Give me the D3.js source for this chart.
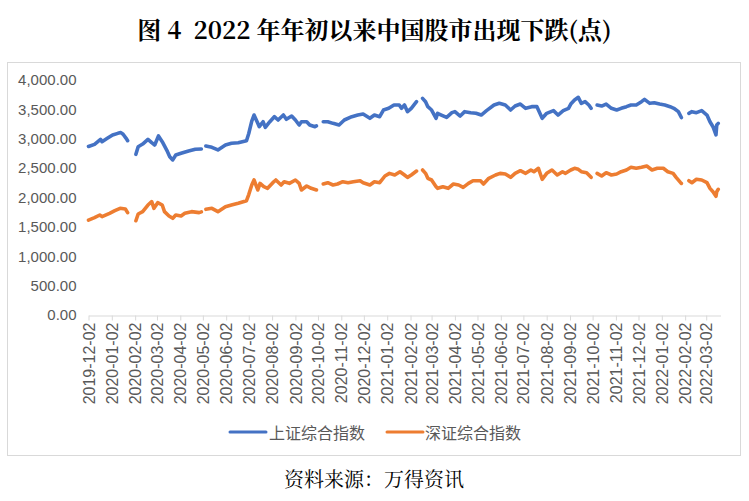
<!DOCTYPE html>
<html><head><meta charset="utf-8">
<script src="https://cdn.jsdelivr.net/npm/d3@7/dist/d3.min.js"></script>
<style>
html,body{margin:0;padding:0;background:#fff;}
svg{display:block;}
</style></head>
<body>
<svg id="c" width="749" height="501"></svg>
<script>
const titleText = "图 4  2022 年年初以来中国股市出现下跌(点)";
const sourceText = "资料来源：万得资讯";
const seriesNames = ["上证综合指数", "深证综合指数"];
const yTicks = [0, 500, 1000, 1500, 2000, 2500, 3000, 3500, 4000];
const xTickLabels = ["2019-12-02","2020-01-02","2020-02-02","2020-03-02","2020-04-02","2020-05-02","2020-06-02",
 "2020-07-02","2020-08-02","2020-09-02","2020-10-02","2020-11-02","2020-12-02","2021-01-02","2021-02-02",
 "2021-03-02","2021-04-02","2021-05-02","2021-06-02","2021-07-02","2021-08-02","2021-09-02","2021-10-02",
 "2021-11-02","2021-12-02","2022-01-02","2022-02-02","2022-03-02"];
const xDomain = ["2019-12-02", "2022-03-21"];

const shDates = ["2019-12-02","2019-12-10","2019-12-18","2019-12-20","2019-12-27","2020-01-03","2020-01-10","2020-01-14","2020-01-17","2020-01-21","2020-01-23","2020-01-31",
"2020-02-03","2020-02-06","2020-02-12","2020-02-19","2020-02-24","2020-02-28","2020-03-04","2020-03-09","2020-03-16","2020-03-19","2020-03-23","2020-03-27",
"2020-04-03","2020-04-13","2020-04-22","2020-04-30","2020-05-01","2020-05-06","2020-05-14","2020-05-22","2020-06-01","2020-06-09","2020-06-18","2020-06-29",
"2020-07-02","2020-07-06","2020-07-09","2020-07-14","2020-07-16","2020-07-21","2020-07-24","2020-07-30","2020-08-05","2020-08-10","2020-08-17","2020-08-21",
"2020-08-28","2020-09-02","2020-09-07","2020-09-10","2020-09-17","2020-09-21","2020-09-28","2020-09-30","2020-10-01","2020-10-09","2020-10-15","2020-10-22",
"2020-10-30","2020-11-06","2020-11-16","2020-11-24","2020-12-01","2020-12-10","2020-12-16","2020-12-23","2020-12-28","2021-01-04","2021-01-11","2021-01-18",
"2021-01-21","2021-01-25","2021-01-29","2021-02-03","2021-02-10","2021-02-11","2021-02-18","2021-02-22","2021-02-25","2021-03-02","2021-03-08","2021-03-10",
"2021-03-15","2021-03-22","2021-03-29","2021-04-02","2021-04-09","2021-04-15","2021-04-23","2021-04-30","2021-05-07","2021-05-14","2021-05-24","2021-05-31",
"2021-06-08","2021-06-15","2021-06-21","2021-06-28","2021-07-05","2021-07-13","2021-07-20","2021-07-27","2021-08-02","2021-08-11","2021-08-17","2021-08-24",
"2021-08-31","2021-09-03","2021-09-08","2021-09-13","2021-09-17","2021-09-22","2021-09-27","2021-09-30","2021-10-01","2021-10-08","2021-10-14","2021-10-20",
"2021-10-27","2021-11-03","2021-11-09","2021-11-16","2021-11-22","2021-11-29","2021-12-06","2021-12-10","2021-12-17","2021-12-23","2021-12-30","2022-01-06",
"2022-01-13","2022-01-18","2022-01-24","2022-01-28","2022-01-31","2022-02-07","2022-02-11","2022-02-17","2022-02-24","2022-03-03","2022-03-07","2022-03-11",
"2022-03-15","2022-03-16","2022-03-18"];
const shValues = [2868,2905,2990,2950,3007,3064,3092,3105,3076,3007,2967,null,
2735,2865,2910,2990,2933,2894,3047,2950,2780,2695,2640,2723,
2752,2791,2820,2825,null,2877,2854,2809,2894,2922,2933,2967,
3090,3300,3404,3262,3205,3290,3194,3290,3375,3319,3404,3331,
3387,3319,3234,3290,3290,3234,3205,3218,null,3290,3290,3262,
3234,3319,3375,3404,3421,3348,3404,3375,3489,3518,3574,3574,
3518,3574,3461,3518,3631,null,3688,3631,3546,3489,3348,3433,
3404,3365,3444,3461,3387,3461,3444,3433,3404,3478,3574,3603,
3574,3489,3557,3591,3518,3546,3546,3348,3433,3478,3404,3478,
3518,3590,3660,3705,3603,3631,3574,3518,null,3574,3557,3591,
3518,3489,3518,3546,3574,3574,3631,3671,3603,3614,3591,3574,
3546,3518,3461,3361,null,3433,3461,3444,3478,3404,3290,3205,
3065,3234,3262];

const szDates = ["2019-12-02","2019-12-10","2019-12-17","2019-12-20","2019-12-30","2020-01-06","2020-01-13","2020-01-20","2020-01-23","2020-01-31",
"2020-02-03","2020-02-06","2020-02-12","2020-02-19","2020-02-24","2020-02-27","2020-03-03","2020-03-09","2020-03-12","2020-03-18","2020-03-23","2020-03-27",
"2020-04-03","2020-04-08","2020-04-17","2020-04-27","2020-04-30","2020-05-01","2020-05-06","2020-05-14","2020-05-22","2020-06-01","2020-06-09","2020-06-18",
"2020-06-29","2020-07-02","2020-07-06","2020-07-09","2020-07-14","2020-07-17","2020-07-22","2020-07-27","2020-08-03","2020-08-07","2020-08-14","2020-08-18",
"2020-08-25","2020-09-02","2020-09-07","2020-09-10","2020-09-17","2020-09-23","2020-09-30","2020-10-01","2020-10-09","2020-10-15","2020-10-22","2020-10-28",
"2020-11-04","2020-11-11","2020-11-18","2020-11-27","2020-12-01","2020-12-10","2020-12-16","2020-12-23","2020-12-30","2021-01-05","2021-01-12","2021-01-19",
"2021-01-25","2021-01-29","2021-02-03","2021-02-10","2021-02-11","2021-02-18","2021-02-22","2021-02-25","2021-03-02","2021-03-08","2021-03-10","2021-03-17",
"2021-03-24","2021-03-31","2021-04-07","2021-04-13","2021-04-20","2021-04-26","2021-05-06","2021-05-10","2021-05-17","2021-05-26","2021-06-01","2021-06-08",
"2021-06-15","2021-06-21","2021-06-28","2021-07-05","2021-07-12","2021-07-16","2021-07-22","2021-07-27","2021-08-02","2021-08-09","2021-08-16","2021-08-23",
"2021-08-27","2021-09-03","2021-09-08","2021-09-13","2021-09-17","2021-09-24","2021-09-30","2021-10-01","2021-10-08","2021-10-14","2021-10-20","2021-10-27",
"2021-11-03","2021-11-09","2021-11-16","2021-11-22","2021-11-29","2021-12-06","2021-12-13","2021-12-20","2021-12-27","2022-01-04","2022-01-10","2022-01-17",
"2022-01-21","2022-01-27","2022-01-28","2022-01-31","2022-02-07","2022-02-11","2022-02-17","2022-02-24","2022-03-03","2022-03-07","2022-03-11","2022-03-15",
"2022-03-16","2022-03-18"];
const szValues = [1615,1657,1702,1674,1731,1776,1816,1804,1742,null,
1605,1719,1759,1872,1929,1816,1912,1872,1759,1685,1646,1702,
1685,1731,1759,1742,1755,null,1799,1816,1759,1844,1872,1901,
1945,2050,2213,2298,2128,2241,2184,2156,2252,2298,2213,2269,
2241,2298,2241,2128,2196,2156,2128,null,2230,2252,2213,2230,
2269,2252,2269,2286,2252,2213,2269,2252,2366,2411,2383,2439,
2383,2343,2383,2450,null,2468,2411,2327,2298,2184,2156,2184,
2156,2230,2213,2173,2241,2286,2286,2230,2327,2383,2411,2400,
2343,2411,2456,2411,2468,2439,2497,2310,2411,2468,2383,2439,
2411,2468,2497,2480,2439,2422,2343,null,2411,2366,2422,2383,
2400,2439,2468,2514,2497,2514,2536,2468,2497,2497,2439,2411,
2343,2252,2240,null,2286,2252,2310,2298,2252,2156,2099,2020,
2099,2139];

const colors = ["#4472C4", "#ED7D31"];

const parse = d3.timeParse("%Y-%m-%d");
const svg = d3.select("#c");

// chart border
svg.append("rect").attr("x", 7.5).attr("y", 62.5).attr("width", 733).attr("height", 393)
  .attr("fill", "none").attr("stroke", "#d9d9d9").attr("stroke-width", 1);

// title
svg.append("text").attr("x", 374.5).attr("y", 28).attr("text-anchor", "middle")
  .attr("dominant-baseline", "central")
  .style("font-family", "'Noto Serif CJK SC','Liberation Serif','Noto Sans CJK SC',serif")
  .style("font-weight", "bold").style("font-size", "24px").attr("fill", "#000")
  .attr("xml:space", "preserve")
  .text(titleText);

const x = d3.scaleTime().domain(xDomain.map(parse)).range([88.5, 720.5]);
const y = d3.scaleLinear().domain([0, 4000]).range([315, 80]);

// y axis
const yAxis = svg.append("g").attr("transform", "translate(88.5,0)")
  .call(d3.axisLeft(y).tickValues(yTicks).tickFormat(d3.format(",.2f")).tickSize(0).tickPadding(12));
yAxis.select(".domain").remove();
yAxis.selectAll("text").style("font-family", "'Liberation Sans',Arial,sans-serif")
  .style("font-size", "15px").attr("fill", "#595959");

// x axis
const xAxis = svg.append("g").attr("transform", "translate(0,315.5)")
  .call(d3.axisBottom(x).tickValues(xTickLabels.map(parse)).tickFormat(d3.timeFormat("%Y-%m-%d"))
    .tickSize(5).tickSizeOuter(0));
xAxis.select(".domain").attr("stroke", "#d9d9d9");
xAxis.selectAll(".tick line").attr("stroke", "#d9d9d9");
xAxis.selectAll("text")
  .style("font-family", "'Liberation Sans',Arial,sans-serif").style("font-size", "16px")
  .attr("fill", "#595959")
  .attr("transform", "rotate(-90)")
  .attr("text-anchor", "end").attr("x", -7).attr("y", 0).attr("dy", "0.35em");

// lines
const line = d3.line().defined(d => d.v != null).x(d => x(d.d)).y(d => y(d.v));
const sets = [
  shDates.map((s, i) => ({ d: parse(s), v: shValues[i] })),
  szDates.map((s, i) => ({ d: parse(s), v: szValues[i] }))
];
sets.forEach((data, i) => {
  svg.append("path").datum(data).attr("d", line)
    .attr("fill", "none").attr("stroke", colors[i]).attr("stroke-width", 3.6)
    .attr("stroke-linejoin", "round").attr("stroke-linecap", "round");
});

// legend
const legendItems = [{ x0: 230, tx: 269 }, { x0: 387, tx: 425 }];
legendItems.forEach((it, i) => {
  svg.append("line").attr("x1", it.x0).attr("x2", it.x0 + 36).attr("y1", 432).attr("y2", 432)
    .attr("stroke", colors[i]).attr("stroke-width", 3).attr("stroke-linecap", "round");
  svg.append("text").attr("x", it.tx).attr("y", 432).attr("dominant-baseline", "central")
    .style("font-family", "'Noto Sans CJK SC',sans-serif").style("font-size", "16px")
    .attr("fill", "#595959").text(seriesNames[i]);
});

// source
svg.append("text").attr("x", 374).attr("y", 478).attr("text-anchor", "middle")
  .attr("dominant-baseline", "central")
  .style("font-family", "'Noto Serif CJK SC','Liberation Serif','Noto Sans CJK SC',serif")
  .style("font-size", "20px").attr("fill", "#000").text(sourceText);
</script>
</body></html>
